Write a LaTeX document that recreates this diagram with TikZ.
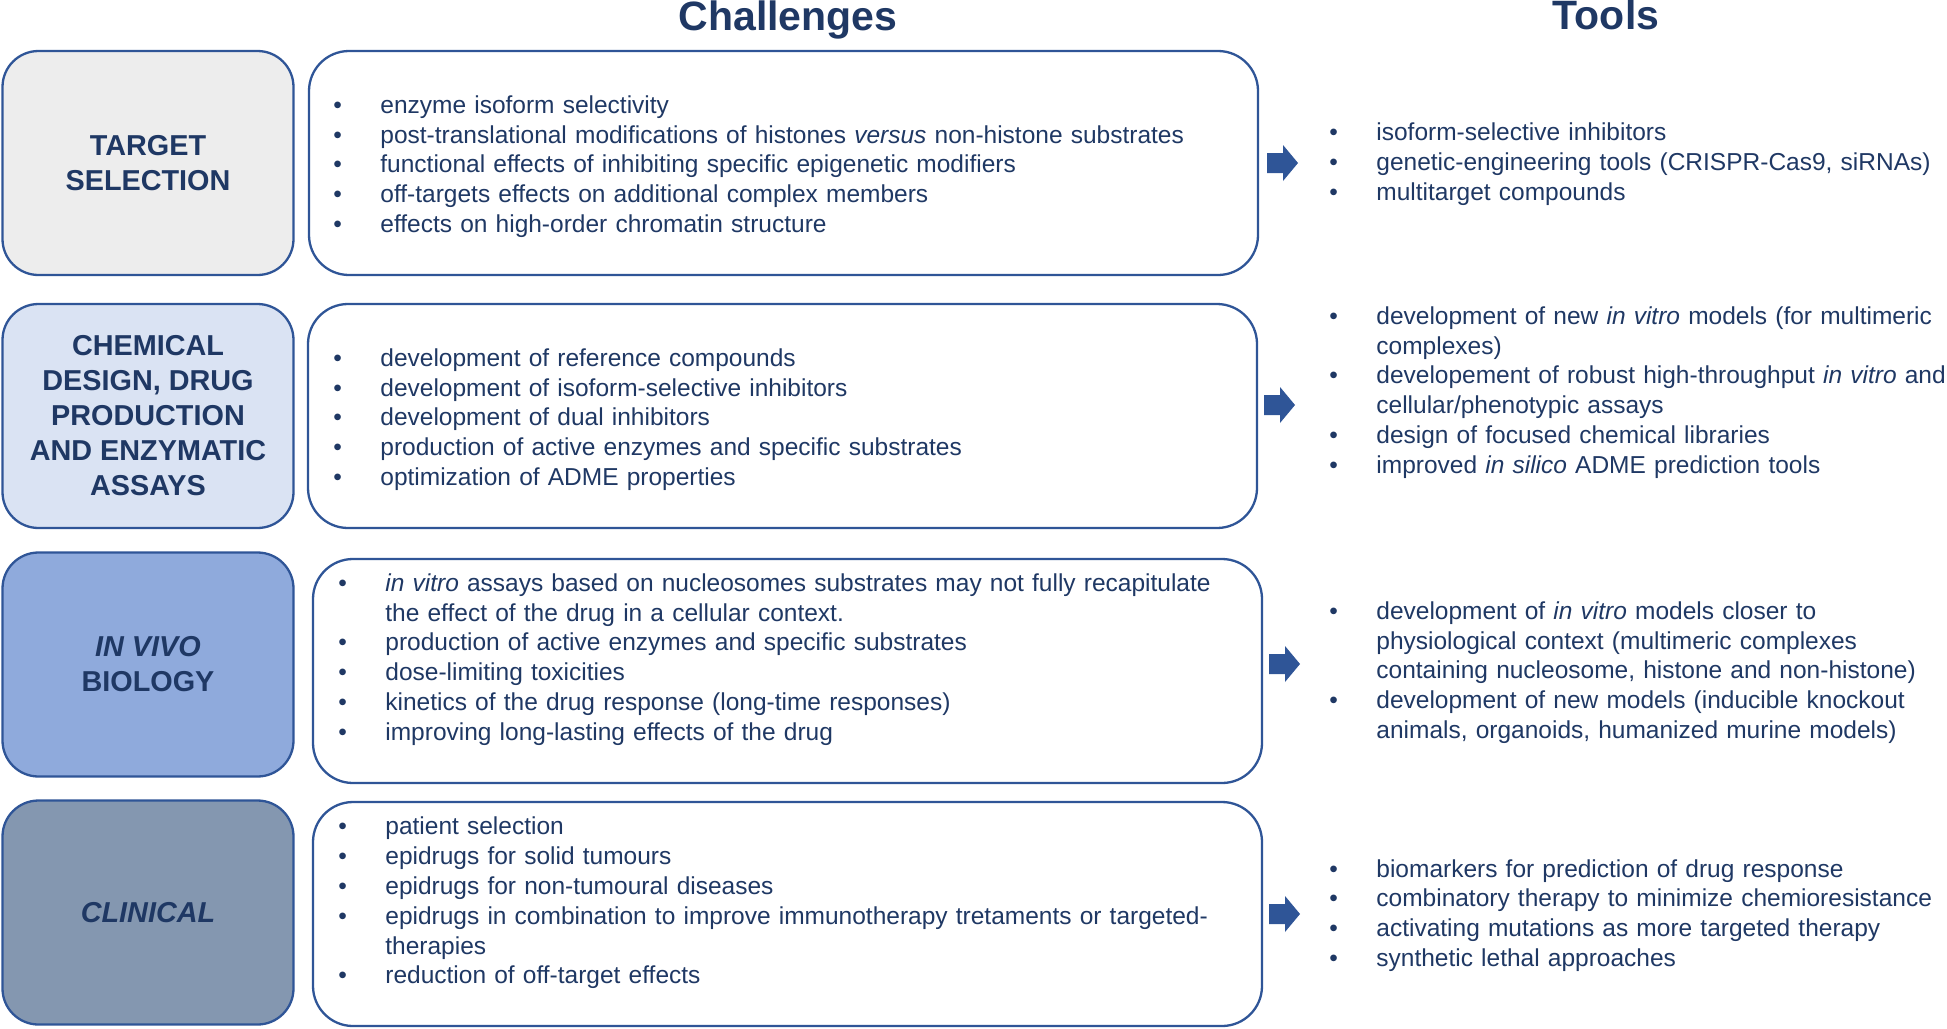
\documentclass[tikz,border=0pt]{standalone}
\usepackage{fontspec}
\setmainfont{Liberation Sans}

\definecolor{textblue}{HTML}{1F3864}
\definecolor{lineblue}{HTML}{2F5597}
\definecolor{targetfill}{HTML}{EDEDED}
\definecolor{chemfill}{HTML}{DAE3F3}
\definecolor{vivofill}{HTML}{8FAADC}
\definecolor{clinfill}{HTML}{8497B0}

\newcommand{\bitem}[1]{\par\hangindent=23.5pt\noindent\makebox[23.5pt][l]{\textbullet}#1\par}

\begin{document}
\begin{tikzpicture}[x=0.5pt,y=-0.5pt,
    stage/.style={draw=lineblue, line width=1.15pt, rounded corners=18pt,
        minimum width=145.5pt, minimum height=112pt, inner sep=0pt,
        align=center, text=textblue, font=\bfseries\fontsize{14.4}{17.5}\selectfont},
    challenge/.style={draw=lineblue, line width=1.15pt, rounded corners=20pt,
        fill=white, minimum width=474.5pt, minimum height=112pt},
    itemlist/.style={anchor=west, inner sep=0pt, text=textblue, align=left,
        font=\fontsize{12.25}{14.9}\selectfont},
    header/.style={anchor=base, text=textblue, font=\bfseries\fontsize{20.5}{24}\selectfont},
    blockarrow/.style={fill=lineblue}]
    \useasboundingbox (0,0) rectangle (1947,1028);

    % column titles
    \node[header] (challenges) at (788,30) {Challenges};
    \node[header] (tools) at (1606,29) {Tools};

    % stages
    \node[stage, fill=targetfill] (target) at (148,163) {TARGET\\SELECTION};
    \node[stage, fill=chemfill] (chem) at (148,416) {CHEMICAL\\DESIGN, DRUG\\PRODUCTION\\AND ENZYMATIC\\ASSAYS};
    \node[stage, fill=vivofill] (vivo) at (148,664.5) {\textit{IN VIVO}\\BIOLOGY};
    \node[stage, fill=clinfill] (clin) at (148,912.5) {\textit{CLINICAL}};

    % challenge boxes
    \node[challenge] (targetch) at (783.5,163) {};
    \node[challenge] (chemch) at (782.5,416) {};
    \node[challenge] (vivoch) at (787.5,671) {};
    \node[challenge] (clinch) at (787.5,914) {};

    \node[itemlist, text width=460pt] (targetlist) at (333,160.5) {
        \bitem{enzyme isoform selectivity}
        \bitem{post-translational modifications of histones \textit{versus} non-histone substrates}
        \bitem{functional effects of inhibiting specific epigenetic modifiers}
        \bitem{off-targets effects on additional complex members}
        \bitem{effects on high-order chromatin structure}};
    \node[itemlist, text width=460pt] (chemlist) at (333,413.5) {
        \bitem{development of reference compounds}
        \bitem{development of isoform-selective inhibitors}
        \bitem{development of dual inhibitors}
        \bitem{production of active enzymes and specific substrates}
        \bitem{optimization of ADME properties}};
    \node[itemlist, text width=460pt] (vivolist) at (338,653.5) {
        \bitem{\textit{in vitro} assays based on nucleosomes substrates may not fully recapitulate\newline the effect of the drug in a cellular context.}
        \bitem{production of active enzymes and specific substrates}
        \bitem{dose-limiting toxicities}
        \bitem{kinetics of the drug response (long-time responses)}
        \bitem{improving long-lasting effects of the drug}};
    \node[itemlist, text width=460pt] (clinlist) at (338,897) {
        \bitem{patient selection}
        \bitem{epidrugs for solid tumours}
        \bitem{epidrugs for non-tumoural diseases}
        \bitem{epidrugs in combination to improve immunotherapy tretaments or targeted-\newline therapies}
        \bitem{reduction of off-target effects}};

    % tools
    \node[itemlist, text width=310pt] (targettools) at (1329,158) {
        \bitem{isoform-selective inhibitors}
        \bitem{genetic-engineering tools (CRISPR-Cas9, siRNAs)}
        \bitem{multitarget compounds}};
    \node[itemlist, text width=310pt] (chemtools) at (1329,386.5) {
        \bitem{\makebox[284pt][s]{development of new \textit{in vitro} models (for multimeric}\newline complexes)}
        \bitem{\makebox[284pt][s]{developement of robust high-throughput \textit{in vitro} and}\newline cellular/phenotypic assays}
        \bitem{design of focused chemical libraries}
        \bitem{improved \textit{in silico} ADME prediction tools}};
    \node[itemlist, text width=310pt] (vivotools) at (1329,666.5) {
        \bitem{development of \textit{in vitro} models closer to\newline physiological context (multimeric complexes\newline containing nucleosome, histone and non-histone)}
        \bitem{development of new models (inducible knockout\newline animals, organoids, humanized murine models)}};
    \node[itemlist, text width=310pt] (clintools) at (1329,909.5) {
        \bitem{biomarkers for prediction of drug response}
        \bitem{combinatory therapy to minimize chemioresistance}
        \bitem{activating mutations as more targeted therapy}
        \bitem{synthetic lethal approaches}};

    % arrows from challenges to tools
    \foreach \ax/\ay in {1267/163, 1264/405, 1269/664, 1269/914}
        \fill[blockarrow] (\ax,\ay-10) -- ++(16,0) -- ++(0,-8) -- ++(15,18)
            -- ++(-15,18) -- ++(0,-8) -- ++(-16,0) -- cycle;
\end{tikzpicture}
\end{document}
